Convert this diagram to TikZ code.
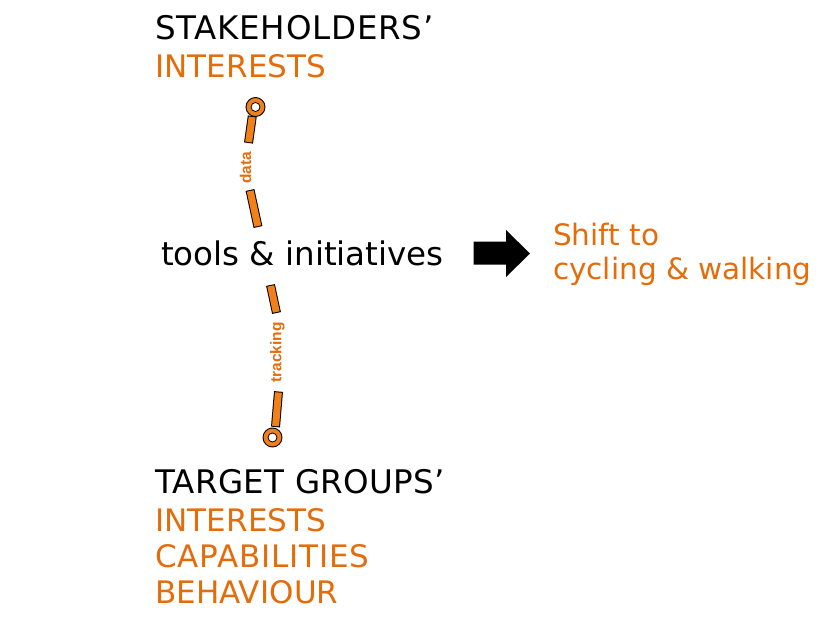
\documentclass[tikz,border=0pt]{standalone}
\usepackage{fontspec}
\setmainfont{DejaVu Sans}
\newfontfamily\labfont{Liberation Sans}
\usepackage{xcolor}
\definecolor{txtorange}{RGB}{228,108,10}
\definecolor{barorange}{RGB}{242,128,24}
\begin{document}
\begin{tikzpicture}[x=1pt,y=-1pt,
  txt/.style={anchor=base west,inner sep=0pt,outer sep=0pt},
  big/.style={txt,font=\fontsize{32.5}{38}\selectfont},
  mid/.style={txt,font=\fontsize{31}{36}\selectfont},
  side/.style={txt,font=\fontsize{29.5}{34}\selectfont,text=txtorange},
  lab/.style={inner sep=0pt,font=\labfont\bfseries\fontsize{15.5}{17}\selectfont,text=txtorange,rotate=90},
  barout/.style={line width=9pt,black},
  barin/.style={line width=7pt,barorange},
  pin/.style={circle,fill=barorange,draw=black,line width=0.9pt,minimum size=19pt,inner sep=0pt},
  pinhole/.style={circle,fill=white,draw=black,line width=0.8pt,minimum size=9pt,inner sep=0pt}
]
\useasboundingbox (0,0) rectangle (823,621);

% texts
\node[big] (sh) at (155,39) {\addfontfeatures{LetterSpace=2.4}STAKEHOLDERS’};
\node[mid,text=txtorange] (shi) at (155,77) {\addfontfeatures{LetterSpace=0.4}INTERESTS};
\node[big] (ti) at (161,265) {tools \& initiatives};
\node[side] (s1) at (553,245) {Shift to};
\node[side] (s2) at (553,279) {cycling \& walking};
\node[big] (tg) at (155,493) {\addfontfeatures{LetterSpace=1.1}TARGET GROUPS’};
\node[mid,text=txtorange] (tgi) at (155,531) {\addfontfeatures{LetterSpace=0.4}INTERESTS};
\node[mid,text=txtorange] (tgc) at (155,567) {\addfontfeatures{LetterSpace=2.8}CAPABILITIES};
\node[mid,text=txtorange] (tgb) at (155,603) {\addfontfeatures{LetterSpace=0.4}BEHAVIOUR};

% connector points
\coordinate (a1) at (252.3,116);
\coordinate (a2) at (248.5,143);
\coordinate (b1) at (250,190);
\coordinate (b2) at (258,227);
\coordinate (c1) at (270.5,285);
\coordinate (c2) at (276.5,313);
\coordinate (d1) at (278.5,391.5);
\coordinate (d2) at (275.5,427);

\foreach \p/\q in {a1/a2,b1/b2,c1/c2,d1/d2}{
  \draw[barout] (\p) -- (\q);
  \draw[barin,shorten <=1pt,shorten >=1pt] (\p) -- (\q);
}

\node[lab] (data) at (245.5,168) {data};
\node[lab] (track) at (277.5,352.5) {tracking};

% pins
\node[pin] (top) at (255.5,107) {};
\node[pinhole] at (top) {};
\node[pin] (bot) at (272.5,437.5) {};
\node[pinhole] at (bot) {};

% big arrow
\coordinate (ar1) at (473.5,241.5);
\coordinate (ar2) at (506,241.5);
\coordinate (ar3) at (506,230);
\coordinate (ar4) at (530,253.5);
\coordinate (ar5) at (506,277);
\coordinate (ar6) at (506,264.5);
\coordinate (ar7) at (473.5,264.5);
\fill[black] (ar1) -- (ar2) -- (ar3) -- (ar4) -- (ar5) -- (ar6) -- (ar7) -- cycle;
\end{tikzpicture}
\end{document}
